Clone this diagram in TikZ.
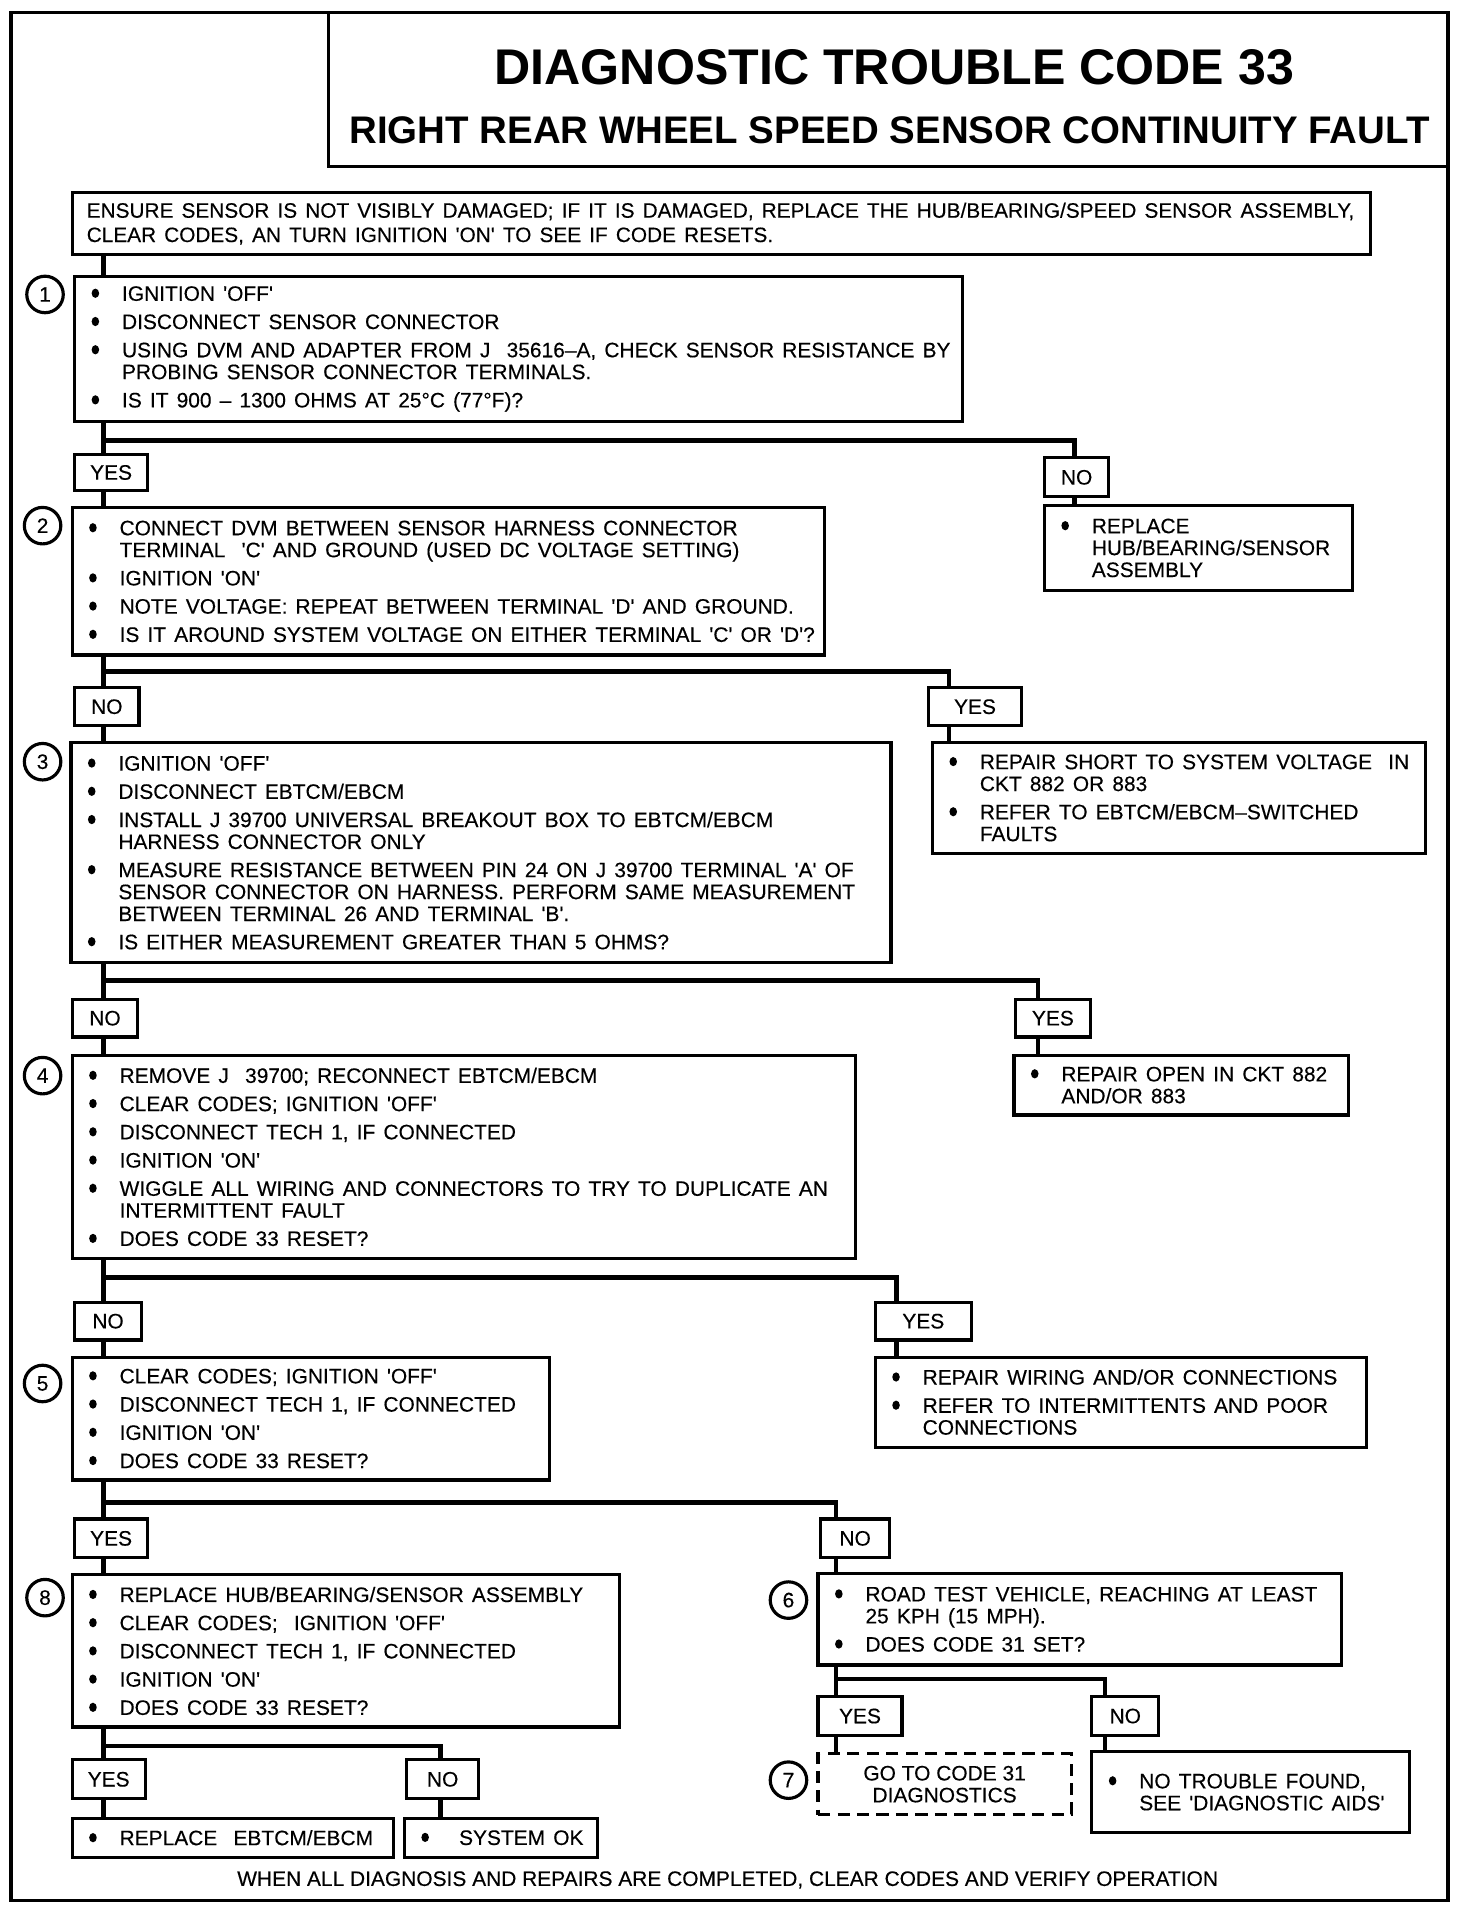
\documentclass[tikz,border=0pt]{standalone}
\usepackage{fontspec}
\newfontfamily\dfont{Liberation Sans}[FakeBold=0.3]
\newfontfamily\tfont{Liberation Sans}
\newcommand\lblfont{\dfont\fontsize{8.6}{9}\selectfont}
\newcommand\boxset{\lblfont\setlength\parskip{2.6pt}\leftskip=16.5pt\rightskip=-30pt plus 1fil\relax}
\newcommand\bul{\noindent\llap{\makebox[16.5pt][l]{\hspace{4pt}\tikz[baseline=0pt]\fill (0pt,3.1pt) ellipse (1.55pt and 1.9pt);}}}
\begin{document}
\begin{tikzpicture}[x=0.5pt, y=-0.5pt,
stepbox/.style={draw=black, line width=1.3pt, anchor=north west, inner xsep=3pt, inner ysep=2pt, execute at begin node=\boxset},
notebox/.style={stepbox, inner xsep=6pt, execute at begin node={\leftskip=0pt\fontsize{8.55}{10}\selectfont}},
answer/.style={draw=black, line width=1.3pt, anchor=north west, inner sep=0pt, font=\lblfont},
num/.style={circle, draw=black, line width=1.3pt, minimum size=15pt, inner sep=0pt, font=\lblfont},
wire/.style={line width=1.9pt},
]
\useasboundingbox (0,0) rectangle (1210,1573);
\draw[line width=1.3pt] (9,10) rectangle (1190,1562);
\draw[line width=1.3pt] (270,10) rectangle (1190,137);
\node (dtc) at (735,55) {\tfont\fontsize{20.6}{24}\selectfont\bfseries DIAGNOSTIC TROUBLE CODE 33};
\node (fault) at (731,107) {\tfont\fontsize{15.8}{18}\selectfont\bfseries RIGHT REAR WHEEL SPEED SENSOR CONTINUITY FAULT};

% main column
\node[notebox, text width=521.5pt, minimum height=25.5pt] (check) at (58,157) {ENSURE SENSOR IS NOT VISIBLY DAMAGED; IF IT IS DAMAGED, REPLACE THE HUB/BEARING/SPEED SENSOR ASSEMBLY,\\ CLEAR CODES, AN TURN IGNITION 'ON' TO SEE IF CODE RESETS.};
\node[stepbox, text width=359pt, minimum height=59.5pt] (step1) at (60,226) {\bul IGNITION 'OFF'\par
\bul DISCONNECT SENSOR CONNECTOR\par
\bul USING DVM AND ADAPTER FROM J~~35616–A, CHECK SENSOR RESISTANCE BY\\ PROBING SENSOR CONNECTOR TERMINALS.\par
\bul IS IT 900 – 1300 OHMS AT 25°C (77°F)?};
\node[stepbox, text width=303pt, minimum height=60.5pt] (step2) at (58,416) {\bul CONNECT DVM BETWEEN SENSOR HARNESS CONNECTOR\\ TERMINAL~~'C' AND GROUND (USED DC VOLTAGE SETTING)\par
\bul IGNITION 'ON'\par
\bul NOTE VOLTAGE: REPEAT BETWEEN TERMINAL 'D' AND GROUND.\par
\bul IS IT AROUND SYSTEM VOLTAGE ON EITHER TERMINAL 'C' OR 'D'?};
\node[stepbox, text width=331pt, minimum height=90.5pt] (step3) at (57,609) {\bul IGNITION 'OFF'\par
\bul DISCONNECT EBTCM/EBCM\par
\bul INSTALL J 39700 UNIVERSAL BREAKOUT BOX TO EBTCM/EBCM\\ HARNESS CONNECTOR ONLY\par
\bul MEASURE RESISTANCE BETWEEN PIN 24 ON J 39700 TERMINAL 'A' OF\\ SENSOR CONNECTOR ON HARNESS. PERFORM SAME MEASUREMENT\\ BETWEEN TERMINAL 26 AND TERMINAL 'B'.\par
\bul IS EITHER MEASUREMENT GREATER THAN 5 OHMS?};
\node[stepbox, text width=316pt, minimum height=83.5pt] (step4) at (58,866) {\bul REMOVE J~~39700; RECONNECT EBTCM/EBCM\par
\bul CLEAR CODES; IGNITION 'OFF'\par
\bul DISCONNECT TECH 1, IF CONNECTED\par
\bul IGNITION 'ON'\par
\bul WIGGLE ALL WIRING AND CONNECTORS TO TRY TO DUPLICATE AN\\ INTERMITTENT FAULT\par
\bul DOES CODE 33 RESET?};
\node[stepbox, text width=190pt, minimum height=50.5pt] (step5) at (58,1114) {\bul CLEAR CODES; IGNITION 'OFF'\par
\bul DISCONNECT TECH 1, IF CONNECTED\par
\bul IGNITION 'ON'\par
\bul DOES CODE 33 RESET?};
\node[stepbox, text width=219pt, minimum height=62.5pt] (step8) at (58,1293) {\bul REPLACE HUB/BEARING/SENSOR ASSEMBLY\par
\bul CLEAR CODES;~~IGNITION 'OFF'\par
\bul DISCONNECT TECH 1, IF CONNECTED\par
\bul IGNITION 'ON'\par
\bul DOES CODE 33 RESET?};
\node[stepbox, text width=209pt, minimum height=37.5pt] (step6) at (671,1292) {\bul ROAD TEST VEHICLE, REACHING AT LEAST\\ 25 KPH (15 MPH).\par
\bul DOES CODE 31 SET?};
\node[answer, dashed, dash pattern=on 5pt off 3pt, align=center, minimum width=104pt, minimum height=25pt] (step7) at (671,1440) {GO TO CODE 31\\ DIAGNOSTICS};

% outcomes
\node[stepbox, text width=120.5pt, minimum height=35pt] (replace) at (857,414) {\bul REPLACE\\ HUB/BEARING/SENSOR\\ ASSEMBLY};
\node[stepbox, text width=196.5pt, minimum height=45.5pt] (short) at (765,609) {\bul REPAIR SHORT TO SYSTEM VOLTAGE~~IN\\ CKT 882 OR 883\par
\bul REFER TO EBTCM/EBCM–SWITCHED\\ FAULTS};
\node[stepbox, text width=131.5pt, minimum height=24.5pt] (open) at (832,866) {\bul REPAIR OPEN IN CKT 882\\ AND/OR 883};
\node[stepbox, text width=196pt, minimum height=37pt] (wiring) at (718,1114) {\bul REPAIR WIRING AND/OR CONNECTIONS\par
\bul REFER TO INTERMITTENTS AND POOR\\ CONNECTIONS};
\node[stepbox, text width=124.5pt, minimum height=33.5pt] (ntf) at (896,1438) {\bul NO TROUBLE FOUND,\\ SEE 'DIAGNOSTIC AIDS'};
\node[stepbox, text width=126pt, minimum height=16pt] (ebcm) at (58,1493) {\bul REPLACE~~EBTCM/EBCM};
\node[stepbox, text width=73.5pt, minimum height=16pt] (sysok) at (331,1493) {\bul\hspace{3pt}SYSTEM OK};

% yes / no
\node[answer, minimum width=30pt, minimum height=15pt] (yes1) at (60,372) {YES};
\node[answer, minimum width=26.5pt, minimum height=16pt] (no1) at (857,375) {NO};
\node[answer, minimum width=26.5pt, minimum height=15.5pt] (no2) at (60,564) {NO};
\node[answer, minimum width=38pt, minimum height=15.5pt] (yes2) at (762,564) {YES};
\node[answer, minimum width=27pt, minimum height=15.5pt] (no3) at (58,820) {NO};
\node[answer, minimum width=31pt, minimum height=15.5pt] (yes3) at (833,820) {YES};
\node[answer, minimum width=27.5pt, minimum height=15.5pt] (no4) at (60,1069) {NO};
\node[answer, minimum width=39.5pt, minimum height=15.5pt] (yes4) at (718,1069) {YES};
\node[answer, minimum width=30pt, minimum height=16pt] (yes5) at (60,1247) {YES};
\node[answer, minimum width=28.5pt, minimum height=16pt] (no5) at (673,1247) {NO};
\node[answer, minimum width=30pt, minimum height=16pt] (yes8) at (58,1445) {YES};
\node[answer, minimum width=29.5pt, minimum height=16pt] (no8) at (333,1445) {NO};
\node[answer, minimum width=34.5pt, minimum height=16pt] (yes6) at (671,1393) {YES};
\node[answer, minimum width=27.5pt, minimum height=16pt] (no6) at (896,1393) {NO};

% step numbers
\node[num] (n1) at (37,242) {1};
\node[num] (n2) at (35,432) {2};
\node[num] (n3) at (35,626) {3};
\node[num] (n4) at (35,884) {4};
\node[num] (n5) at (35,1137) {5};
\node[num] (n8) at (37,1313) {8};
\node[num] (n6) at (648,1315) {6};
\node[num] (n7) at (648,1463) {7};

\node (note) at (598,1545) {\lblfont WHEN ALL DIAGNOSIS AND REPAIRS ARE COMPLETED, CLEAR CODES AND VERIFY OPERATION};

% connectors
\coordinate (tr) at (85,0);
\coordinate (tr6) at (687,0);
\coordinate (c1) at (883,362);
\coordinate (c2) at (780,552);
\coordinate (c3) at (853,806);
\coordinate (c4) at (737,1050);
\coordinate (c5) at (687,1235);
\coordinate (c6) at (908,1380);
\coordinate (c8) at (362,1435);
\draw[wire] (check.south -| tr) -- (step1.north -| tr);
\draw[wire] (step1.south -| tr) |- (c1) -- (c1 |- no1.north);
\draw[wire] (step1.south -| tr) -- (yes1.north -| tr);
\draw[wire] (yes1.south -| tr) -- (step2.north -| tr);
\draw[wire] (no1.south -| c1) -- (replace.north -| c1);
\draw[wire] (step2.south -| tr) |- (c2) -- (c2 |- yes2.north);
\draw[wire] (step2.south -| tr) -- (no2.north -| tr);
\draw[wire] (no2.south -| tr) -- (step3.north -| tr);
\draw[wire] (yes2.south -| c2) -- (short.north -| c2);
\draw[wire] (step3.south -| tr) |- (c3) -- (c3 |- yes3.north);
\draw[wire] (step3.south -| tr) -- (no3.north -| tr);
\draw[wire] (no3.south -| tr) -- (step4.north -| tr);
\draw[wire] (yes3.south -| c3) -- (open.north -| c3);
\draw[wire] (step4.south -| tr) |- (c4) -- (c4 |- yes4.north);
\draw[wire] (step4.south -| tr) -- (no4.north -| tr);
\draw[wire] (no4.south -| tr) -- (step5.north -| tr);
\draw[wire] (yes4.south -| c4) -- (wiring.north -| c4);
\draw[wire] (step5.south -| tr) |- (c5) -- (c5 |- no5.north);
\draw[wire] (step5.south -| tr) -- (yes5.north -| tr);
\draw[wire] (yes5.south -| tr) -- (step8.north -| tr);
\draw[wire] (no5.south -| c5) -- (step6.north -| c5);
\draw[wire] (step6.south -| tr6) |- (c6) -- (c6 |- no6.north);
\draw[wire] (step6.south -| tr6) -- (yes6.north -| tr6);
\draw[wire] (yes6.south -| tr6) -- (step7.north -| tr6);
\draw[wire] (no6.south -| c6) -- (ntf.north -| c6);
\draw[wire] (step8.south -| tr) |- (c8) -- (c8 |- no8.north);
\draw[wire] (step8.south -| tr) -- (yes8.north -| tr);
\draw[wire] (yes8.south -| tr) -- (ebcm.north -| tr);
\draw[wire] (no8.south -| c8) -- (sysok.north -| c8);
\end{tikzpicture}
\end{document}
